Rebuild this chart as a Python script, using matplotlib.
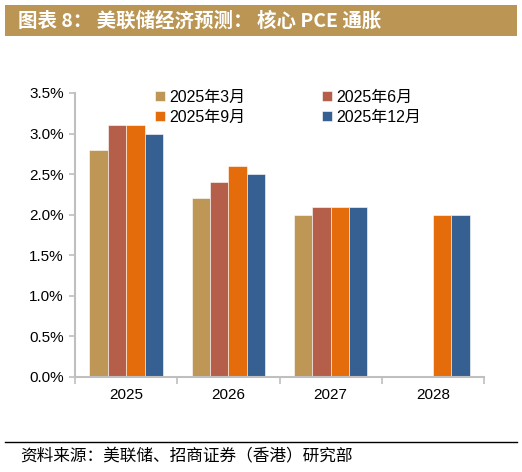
import numpy as np
import matplotlib
matplotlib.use('Agg')
import matplotlib.pyplot as plt
from matplotlib.patches import Rectangle
from matplotlib.lines import Line2D

plt.rcParams['font.family'] = ['Liberation Sans', 'Noto Sans CJK SC', 'DejaVu Sans']

years = ['2025', '2026', '2027', '2028']
series_names = ['2025年3月', '2025年6月', '2025年9月', '2025年12月']
mar_2025 = [2.8, 2.2, 2.0, np.nan]
jun_2025 = [3.1, 2.4, 2.1, np.nan]
sep_2025 = [3.1, 2.6, 2.1, 2.0]
dec_2025 = [3.0, 2.5, 2.1, 2.0]
yticks = [0.0, 0.5, 1.0, 1.5, 2.0, 2.5, 3.0, 3.5]

colors = ['#BE9655', '#B55E4A', '#E46C0A', '#376092']
values = [mar_2025, jun_2025, sep_2025, dec_2025]

fig = plt.figure(figsize=(5.22, 4.72), dpi=100)

# title banner
fig.patches.append(Rectangle((5 / 522, 1 - 36 / 472), 512 / 522, 31 / 472,
                             transform=fig.transFigure, facecolor='#BA9553',
                             edgecolor='none', zorder=0))
fig.text(18 / 522, 1 - 21 / 472, '图表 8： 美联储经济预测： 核心 PCE 通胀',
         color='white', fontsize=14, fontweight='bold', va='center', ha='left',
         family=['Noto Sans CJK SC', 'DejaVu Sans'])

ax = fig.add_axes([75 / 522, 1 - 377 / 472, 409 / 522, 284 / 472])

x = np.arange(len(years))
width = 0.18
bars = []
for i, (vals, c, name) in enumerate(zip(values, colors, series_names)):
    b = ax.bar(x + (i - 1.5) * width, vals, width, color=c, label=name,
               edgecolor='#FFFFFF', linewidth=0.4, zorder=2)
    bars.append(b)

ax.set_xlim(-0.5, 3.5)
ax.set_ylim(0, 3.5)
ax.set_yticks(yticks)
ax.set_yticklabels([f'{v:.1f}%' for v in yticks], fontsize=11)
ax.set_xticks(np.arange(-0.5, 4, 1))
ax.set_xticklabels([])
ax.set_xticks(x, minor=True)
ax.set_xticklabels(years, minor=True, fontsize=11)
ax.tick_params(axis='x', which='major', length=5, color='#BFBFBF', width=1.2)
ax.tick_params(axis='x', which='minor', length=0, pad=8)
ax.tick_params(axis='y', length=4, color='#BFBFBF', width=1.2, pad=4)

for s in ['top', 'right']:
    ax.spines[s].set_visible(False)
for s in ['left', 'bottom']:
    ax.spines[s].set_color('#BFBFBF')
    ax.spines[s].set_linewidth(1.5)

handles = [bars[0], bars[2], bars[1], bars[3]]
labels = [series_names[0], series_names[2], series_names[1], series_names[3]]
ax.legend(handles, labels, ncol=2, loc='upper left', frameon=False,
          bbox_to_anchor=(0.18, 1.035), fontsize=11.5, handlelength=0.6,
          handleheight=0.6, handletextpad=0.3, columnspacing=4.8,
          labelspacing=0.35, borderaxespad=0)

# bottom rule and source
fig.add_artist(Line2D([5 / 522, 517 / 522], [1 - 442 / 472, 1 - 442 / 472],
                      transform=fig.transFigure, color='black', linewidth=1))
fig.text(20 / 522, 1 - 457 / 472, '资料来源：美联储、招商证券（香港）研究部',
         fontsize=12, va='center', ha='left', style='italic',
         family=['Noto Sans CJK SC', 'DejaVu Sans'])

fig.savefig('out.png', dpi=100)
